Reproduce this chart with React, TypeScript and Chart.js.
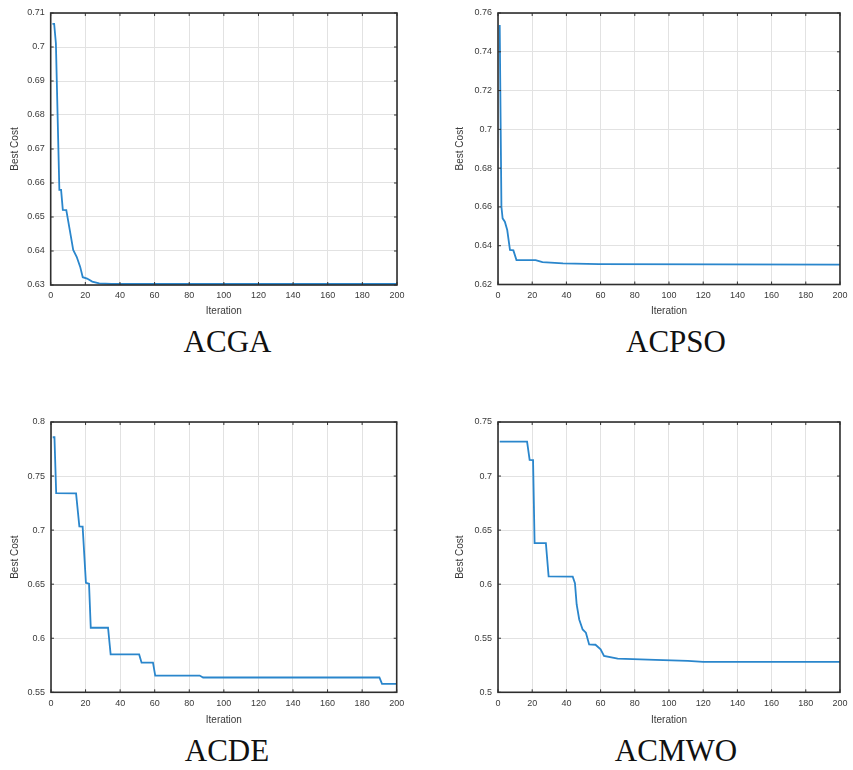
import React, { useEffect, useRef } from "react";
import { Chart, registerables } from "chart.js";

Chart.register(...registerables);

// ---------- DATA ----------
const xTicks = [0, 20, 40, 60, 80, 100, 120, 140, 160, 180, 200];

const acgaIter = [1, 2, 3, 5, 6, 7, 9, 11, 13, 15, 17, 18.5, 21, 24, 28, 35, 200];
const acgaCost = [0.7068, 0.7068, 0.7011, 0.658, 0.658, 0.6521, 0.652, 0.6462, 0.6403, 0.6383, 0.6354, 0.6323, 0.6319, 0.631, 0.6305, 0.6303, 0.6303];
const acgaYTicks = [0.63, 0.64, 0.65, 0.66, 0.67, 0.68, 0.69, 0.7, 0.71];

const acpsoIter = [1, 2, 2.7, 4, 5.4, 7, 9, 10.8, 22, 26, 38, 59, 200];
const acpsoCost = [0.7538, 0.6601, 0.6541, 0.6524, 0.6481, 0.6378, 0.6376, 0.6326, 0.6326, 0.6315, 0.6309, 0.6305, 0.6303];
const acpsoYTicks = [0.62, 0.64, 0.66, 0.68, 0.7, 0.72, 0.74, 0.76];

const acdeIter = [1, 2, 3, 14.5, 16.4, 18.3, 20.2, 22, 23, 33, 34.5, 51, 52.4, 59, 60.3, 86, 88, 190, 191.5, 200];
const acdeCost = [0.7859, 0.7859, 0.7342, 0.734, 0.7034, 0.7032, 0.6512, 0.6505, 0.6097, 0.6097, 0.5851, 0.585, 0.5774, 0.5774, 0.5655, 0.5655, 0.5637, 0.5637, 0.5578, 0.5578];
const acdeYTicks = [0.55, 0.6, 0.65, 0.7, 0.75, 0.8];

const acmwoIter = [1, 17, 18.5, 20.5, 21.4, 28, 29.6, 43.7, 45, 46, 47.5, 49.5, 51.4, 53.3, 57, 60, 62, 70, 92, 111, 120, 200];
const acmwoCost = [0.7318, 0.7318, 0.7149, 0.7147, 0.6381, 0.638, 0.6073, 0.607, 0.601, 0.5812, 0.5674, 0.5581, 0.5551, 0.5443, 0.544, 0.5397, 0.5336, 0.5312, 0.5299, 0.529, 0.5282, 0.5282];
const acmwoYTicks = [0.5, 0.55, 0.6, 0.65, 0.7, 0.75];

const panelTitles = ["ACGA", "ACPSO", "ACDE", "ACMWO"];
const xAxisTitle = "Iteration";
const yAxisTitle = "Best Cost";

// ---------- LAYOUT ----------
type Layout = {
  left: number; top: number; w: number; h: number;
  plotLeft: number; plotRight: number; plotTop: number; plotBottom: number;
  yTitleX: number; xTitleY: number;
  titleCx: number; titleTop: number;
};

const layouts: Layout[] = [
  { left: 0, top: 0, w: 420, h: 322, plotLeft: 50.7, plotRight: 397, plotTop: 13, plotBottom: 285, yTitleX: 15, xTitleY: 311.7, titleCx: 227.5, titleTop: 326 },
  { left: 448, top: 0, w: 405, h: 322, plotLeft: 50, plotRight: 395.5, plotTop: 13, plotBottom: 284.5, yTitleX: 12.7, xTitleY: 311.7, titleCx: 676, titleTop: 326 },
  { left: 0, top: 409, w: 420, h: 322, plotLeft: 51, plotRight: 396.7, plotTop: 13, plotBottom: 283.3, yTitleX: 15, xTitleY: 311, titleCx: 227, titleTop: 735 },
  { left: 448, top: 409, w: 405, h: 322, plotLeft: 50, plotRight: 396, plotTop: 13, plotBottom: 283.3, yTitleX: 12.7, xTitleY: 311, titleCx: 676, titleTop: 735 },
];

const seriesList = [
  { iter: acgaIter, cost: acgaCost, yTicks: acgaYTicks },
  { iter: acpsoIter, cost: acpsoCost, yTicks: acpsoYTicks },
  { iter: acdeIter, cost: acdeCost, yTicks: acdeYTicks },
  { iter: acmwoIter, cost: acmwoCost, yTicks: acmwoYTicks },
];

const boxPlugin = {
  id: "matlabBox",
  afterDraw(chart: any) {
    const { ctx, chartArea, scales } = chart;
    const { left, right, top, bottom } = chartArea;
    ctx.save();
    ctx.strokeStyle = "#333333";
    ctx.lineWidth = 1;
    const tl = 3;
    ctx.beginPath();
    scales.x.ticks.forEach((t: any) => {
      const px = scales.x.getPixelForValue(t.value);
      ctx.moveTo(px, bottom);
      ctx.lineTo(px, bottom - tl);
      ctx.moveTo(px, top);
      ctx.lineTo(px, top + tl);
    });
    scales.y.ticks.forEach((t: any) => {
      const py = scales.y.getPixelForValue(t.value);
      ctx.moveTo(left, py);
      ctx.lineTo(left + tl, py);
      ctx.moveTo(right, py);
      ctx.lineTo(right - tl, py);
    });
    ctx.stroke();
    ctx.lineWidth = 1.6;
    ctx.strokeStyle = "#2e2e2e";
    ctx.strokeRect(left, top, right - left, bottom - top);
    ctx.restore();
  },
};

const fmt = (v: number) => String(Number(v.toFixed(4)));

function Panel({ idx }: { idx: number }) {
  const ref = useRef<HTMLCanvasElement | null>(null);
  const L = layouts[idx];
  const S = seriesList[idx];

  useEffect(() => {
    if (!ref.current) return;
    const data = S.iter.map((x, i) => ({ x, y: S.cost[i] }));
    const yMin = S.yTicks[0];
    const yMax = S.yTicks[S.yTicks.length - 1];
    const chart = new Chart(ref.current, {
      type: "scatter",
      data: {
        datasets: [
          {
            data,
            showLine: true,
            borderColor: "#2a86cc",
            borderWidth: 1.8,
            pointRadius: 0,
            tension: 0,
            fill: false,
          },
        ],
      },
      plugins: [boxPlugin],
      options: {
        animation: false,
        responsive: false,
        maintainAspectRatio: false,
        events: [],
        layout: {
          padding: {
            left: 0,
            top: L.plotTop,
            right: L.w - L.plotRight,
            bottom: L.h - (L.xTitleY + 6),
          },
        },
        plugins: { legend: { display: false }, tooltip: { enabled: false }, title: { display: false } },
        scales: {
          x: {
            type: "linear",
            min: 0,
            max: 200,
            afterBuildTicks: (scale: any) => {
              scale.ticks = xTicks.map((v) => ({ value: v }));
            },
            afterFit: (scale: any) => {
              scale.height = L.xTitleY + 6 - L.plotBottom;
            },
            grid: { color: "#e2e2e2", lineWidth: 1, drawTicks: false },
            border: { display: false },
            ticks: {
              autoSkip: false,
              maxRotation: 0,
              padding: 5.5,
              color: "#3a3a3a",
              font: { family: "'Liberation Sans', Arial, sans-serif", size: 9 },
              callback: (v: any) => fmt(Number(v)),
            },
            title: {
              display: true,
              text: xAxisTitle,
              color: "#3a3a3a",
              padding: { top: 0, bottom: 0 },
              font: { family: "'Liberation Sans', Arial, sans-serif", size: 10 },
            },
          },
          y: {
            type: "linear",
            min: yMin,
            max: yMax,
            afterBuildTicks: (scale: any) => {
              scale.ticks = S.yTicks.map((v) => ({ value: v }));
            },
            afterFit: (scale: any) => {
              scale.width = L.plotLeft;
            },
            grid: { color: "#e2e2e2", lineWidth: 1, drawTicks: false },
            border: { display: false },
            ticks: {
              autoSkip: false,
              padding: 6,
              color: "#3a3a3a",
              font: { family: "'Liberation Sans', Arial, sans-serif", size: 9 },
              callback: (v: any) => fmt(Number(v)),
            },
            title: {
              display: true,
              text: yAxisTitle,
              color: "#3a3a3a",
              padding: { top: L.yTitleX - 6, bottom: 0 },
              font: { family: "'Liberation Sans', Arial, sans-serif", size: 10 },
            },
          },
        },
      },
    } as any);
    return () => chart.destroy();
  }, []);

  return (
    <>
      <canvas
        ref={ref}
        width={L.w}
        height={L.h}
        style={{ position: "absolute", left: L.left, top: L.top, width: L.w, height: L.h }}
      />
      <div
        style={{
          position: "absolute",
          left: L.titleCx,
          top: L.titleTop,
          transform: "translateX(-50%)",
          fontFamily: "'Liberation Serif', 'Times New Roman', serif",
          fontSize: 31,
          lineHeight: "31px",
          color: "#111",
          whiteSpace: "nowrap",
        }}
      >
        {panelTitles[idx]}
      </div>
    </>
  );
}

export default function App() {
  return (
    <div
      style={{
        position: "absolute",
        left: 0,
        top: 0,
        width: 853,
        height: 770,
        background: "#ffffff",
        overflow: "hidden",
      }}
    >
      {[0, 1, 2, 3].map((i) => (
        <Panel key={i} idx={i} />
      ))}
    </div>
  );
}
